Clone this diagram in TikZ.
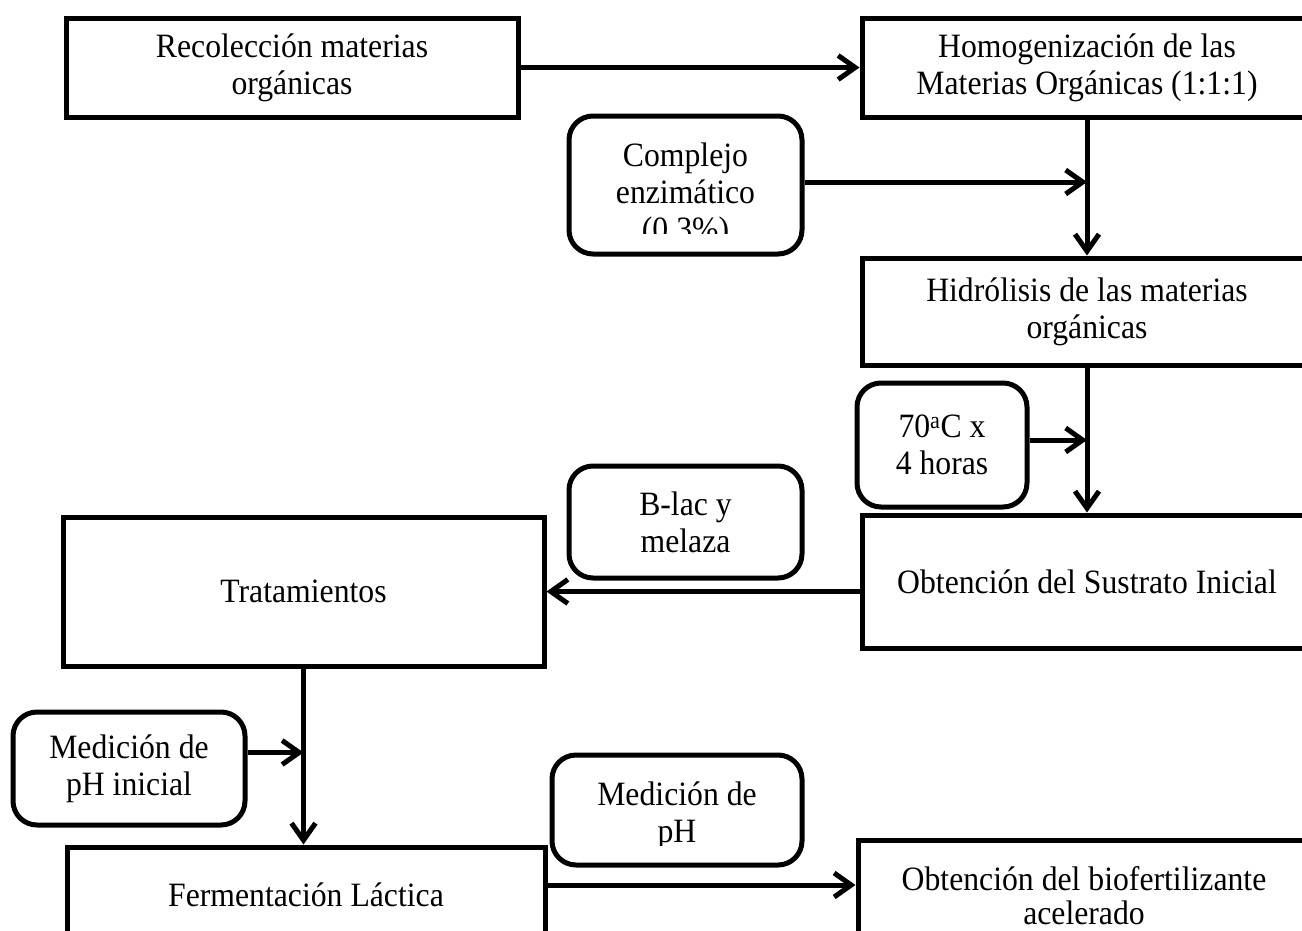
\documentclass[tikz,border=0pt]{standalone}
\usepackage{fontspec}
\setmainfont[FakeStretch=0.93]{Liberation Serif}
\usetikzlibrary{arrows.meta}
\begin{document}
\begin{tikzpicture}[x=1pt,y=-1pt,
  box/.style={draw, line width=5pt, inner sep=0pt, align=center, font=\fontsize{34.1}{37}\selectfont},
  rbox/.style={box, rounded corners=24pt},
  txt/.style={inner sep=0pt, align=center, font=\fontsize{34.1}{37}\selectfont},
  arr/.style={line width=5pt, -{Straight Barb[length=17pt,width=24pt]}}]
\useasboundingbox (0,0) rectangle (1302,930);
\clip (0,0) rectangle (1302,930);
% main process boxes
\node[box, minimum width=452pt, minimum height=99pt] (rec) at (292,67.5) {Recolección materias\\orgánicas};
\node[box, minimum width=450pt, minimum height=99pt] (hom) at (1087,67.5) {Homogenización de las\\Materias Orgánicas (1:1:1)};
\node[box, minimum width=450pt, minimum height=107pt] (hid) at (1087,311.5) {Hidrólisis de las materias\\orgánicas};
\node[box, minimum width=450pt, minimum height=133pt] (sus) at (1087,581.5) {Obtención del Sustrato Inicial};
\node[box, minimum width=481pt, minimum height=149pt] (tra) at (303.5,591.5) {Tratamientos};
\node[box, minimum width=478pt, minimum height=96pt] (fer) at (306,895) {Fermentación Láctica};
\node[box, minimum width=452pt, minimum height=112pt, font=\fontsize{34.1}{34}\selectfont] (bio) at (1084,896) {Obtención del biofertilizante\\acelerado};
% rounded input boxes
\node[rbox, minimum width=233pt, minimum height=138pt] (enz) at (685.5,185) {};
\begin{scope}
  \clip (560,100) rectangle (810,233);
  \node[txt] (enztxt) at (685.5,195) {Complejo\\enzimático\\(0.3\%)};
\end{scope}
\node[rbox, minimum width=170pt, minimum height=124pt] (temp) at (942,445) {70\textsuperscript{a}C x\\4 horas};
\node[rbox, minimum width=233pt, minimum height=112pt] (blac) at (685.5,522) {B-lac y\\melaza};
\node[rbox, minimum width=232pt, minimum height=113pt] (med1) at (129,768.5) {Medición de\\pH inicial};
\node[rbox, minimum width=250pt, minimum height=110pt] (medph) at (677,810) {};
\begin{scope}
  \clip (540,740) rectangle (815,845);
  \node[txt] (medphtxt) at (677,816) {Medición de\\pH};
\end{scope}
% connectors
\draw[arr] (rec.east) -- (hom.west);
\draw[arr] (hom.south) -- (hid.north);
\coordinate (e1) at ([yshift=3pt]enz.east);
\draw[arr] (e1) -- (e1 -| hom.south);
\draw[arr] (hid.south) -- (sus.north);
\coordinate (t1) at ([yshift=5pt]temp.east);
\draw[arr] (t1) -- (t1 -| hid.south);
\draw[arr] (tra.east -| sus.west) -- (tra.east);
\draw[arr] (tra.south) -- (tra.south |- fer.north);
\coordinate (m1) at ([yshift=16pt]med1.east);
\draw[arr] (m1) -- (m1 -| tra.south);
\coordinate (f1) at ([yshift=10pt]fer.east);
\draw[arr] (f1) -- (f1 -| bio.west);
\end{tikzpicture}
\end{document}
